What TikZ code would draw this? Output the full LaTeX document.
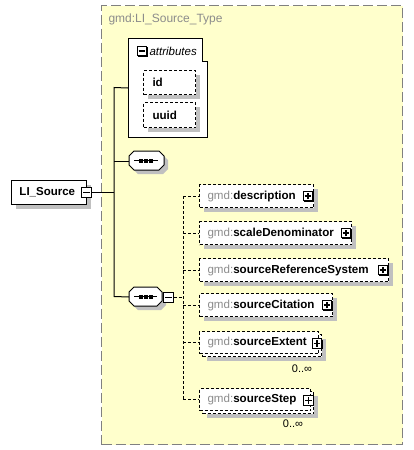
\documentclass[tikz,border=0pt]{standalone}
\usepackage{fontspec}
\setmainfont{Liberation Sans}
\usetikzlibrary{shadows}
\definecolor{frameyellow}{HTML}{FFFFCC}
\definecolor{framegrey}{HTML}{808080}
\definecolor{gmdgrey}{HTML}{8C8C8C}
\definecolor{shgrey}{HTML}{C0C0C0}
\newcommand{\fsmain}{\fontsize{11.6pt}{14pt}\selectfont}
\newcommand{\octpath}[4]{(#1+5,#2) -- (#3-5,#2) -- (#3,#2+5) -- (#3,#4-5) -- (#3-5,#4) -- (#1+5,#4) -- (#1,#4-5) -- (#1,#2+5) -- cycle}
\newcommand{\gmd}[1]{\textcolor{gmdgrey}{gmd:}\textbf{#1}}
\begin{document}
\begin{tikzpicture}[x=1pt,y=-1pt,line width=1pt,
  frame/.style={rectangle, draw=framegrey, fill=frameyellow, dash pattern=on 10pt off 4pt, anchor=north west, inner sep=0pt},
  invis/.style={rectangle, draw=none, anchor=north west, inner sep=0pt},
  solidbox/.style={rectangle, draw=black, fill=white, anchor=north west, inner sep=0pt},
  dashbox/.style={rectangle, draw=black, fill=white, dash pattern=on 3pt off 2pt, anchor=north west, inner sep=0pt},
  shad/.style={general shadow={fill=shgrey, shadow xshift=4pt, shadow yshift=-4pt}},
  lbl/.style={anchor=west, inner sep=0pt, font=\fsmain},
  smalllbl/.style={inner sep=0pt, font=\fontsize{11pt}{13pt}\selectfont},
  pmbox/.style={rectangle, draw=black, fill=white, minimum size=9.5pt, inner sep=0pt,
     general shadow={fill=black, shadow xshift=1.2pt, shadow yshift=-1.2pt}},
  minusbox/.style={pmbox, path picture={\draw[line width=1.2pt] ([xshift=-3.3pt]path picture bounding box.center) -- ([xshift=3.3pt]path picture bounding box.center);}},
  plusbox/.style={pmbox, path picture={\draw[line width=1.2pt] ([xshift=-3.3pt]path picture bounding box.center) -- ([xshift=3.3pt]path picture bounding box.center);
     \draw[line width=1.2pt] ([yshift=-3.3pt]path picture bounding box.center) -- ([yshift=3.3pt]path picture bounding box.center);}},
  conn/.style={draw=black, line width=1pt},
  dconn/.style={draw=black, line width=1pt, dash pattern=on 3pt off 2pt}
]
\useasboundingbox (0,0) rectangle (413,450);

% type frame
\node[frame, minimum width=301pt, minimum height=439pt] (frame) at (101,5) {};
\node[anchor=west, inner sep=0pt, font=\fontsize{12pt}{14pt}\selectfont, text=gmdgrey] (title) at (108,19) {gmd:LI\_Source\_Type};

% attributes
\node[invis, minimum width=79pt, minimum height=99pt] (attr) at (128,38) {};
\draw[fill=white] (128,38) -- (202,38) -- (202,61) -- (207,61) -- (207,137) -- (128,137) -- cycle;
\node[minusbox] (attrM) at (142,51) {};
\node[lbl, font=\fontsize{11.5pt}{13pt}\selectfont\itshape] (attrT) at (149,51) {attributes};
\node[dashbox, shad, minimum width=52pt, minimum height=24pt] (id) at (143,70) {};
\node[lbl] (idT) at ([xshift=9pt]id.west) {\textbf{id}};
\node[dashbox, shad, minimum width=52pt, minimum height=25pt] (uuid) at (143,102) {};
\node[lbl] (uuidT) at ([xshift=9pt]uuid.west) {\textbf{uuid}};

% root element
\node[solidbox, shad, minimum width=75pt, minimum height=24pt] (li) at (11,180) {};
\node[lbl, font=\fontsize{11.5pt}{13pt}\selectfont] (liT) at ([xshift=8pt]li.west) {\textbf{LI\_Source}};
\node[minusbox] (liM) at ([xshift=-0.5pt]li.east) {};

% sequence 1
\node[invis, minimum width=35pt, minimum height=19pt] (seq1) at (129,151) {};
\fill[shgrey] \octpath{133}{155}{168}{174};
\draw[fill=white] \octpath{129}{151}{164}{170};
\draw (134,160.5) -- (158,160.5);
\fill (139,159) rectangle (142.5,162.5);
\fill (144.2,159) rectangle (147.7,162.5);
\fill (149.4,159) rectangle (152.9,162.5);

% sequence 2
\node[invis, minimum width=33pt, minimum height=19pt] (seq2) at (129,287) {};
\fill[shgrey] \octpath{133}{291}{166}{310};
\draw[fill=white] \octpath{129}{287}{162}{306};
\draw (134,296.5) -- (157,296.5);
\fill (139,295) rectangle (142.5,298.5);
\fill (144.2,295) rectangle (147.7,298.5);
\fill (149.4,295) rectangle (152.9,298.5);
\node[minusbox] (seq2M) at (168.5,297.5) {};

% solid connectors
\coordinate (trTop) at (114,87.5);
\coordinate (trBot) at (114,296.5);
\draw[conn] (attr.west) -- (trTop) -- (trBot) -- (seq2.west);
\draw[conn] (seq1.west) -- (seq1.west -| trTop);
\draw[conn] (liM.east) -- (liM.east -| trTop);

% children
\node[dashbox, shad, minimum width=114pt, minimum height=23pt] (desc) at (199,184) {};
\node[lbl] (descT) at ([xshift=8pt]desc.west) {\gmd{description}};
\node[plusbox] (descP) at ([xshift=-6pt]desc.east) {};

\node[dashbox, shad, minimum width=152pt, minimum height=23pt] (scale) at (199,221) {};
\node[lbl] (scaleT) at ([xshift=8pt]scale.west) {\gmd{scaleDenominator}};
\node[plusbox] (scaleP) at ([xshift=-6pt]scale.east) {};

\node[dashbox, shad, minimum width=189pt, minimum height=23pt] (refsys) at (199,258) {};
\node[lbl] (refsysT) at ([xshift=8pt]refsys.west) {\gmd{sourceReferenceSystem}};
\node[plusbox] (refsysP) at ([xshift=-6pt]refsys.east) {};

\node[dashbox, shad, minimum width=133pt, minimum height=23pt] (cit) at (199,293) {};
\node[lbl] (citT) at ([xshift=8pt]cit.west) {\gmd{sourceCitation}};
\node[plusbox] (citP) at ([xshift=-6pt]cit.east) {};

\node[dashbox, shad, minimum width=119pt, minimum height=22pt] (extB) at (202,334) {};
\node[dashbox, minimum width=119pt, minimum height=22pt] (ext) at (199,331) {};
\node[lbl] (extT) at ([xshift=8pt]ext.west) {\gmd{sourceExtent}};
\node[plusbox] (extP) at (317,343.5) {};
\node[smalllbl] (extM) at (302,369) {0..∞};

\node[dashbox, shad, minimum width=111pt, minimum height=22pt] (stepB) at (202,391) {};
\node[dashbox, minimum width=111pt, minimum height=22pt] (stp) at (199,388) {};
\node[lbl] (stpT) at ([xshift=8pt]stp.west) {\gmd{sourceStep}};
\node[plusbox] (stpP) at (308.5,400.5) {};
\node[smalllbl] (stpM) at (293,424) {0..∞};

% dashed connectors
\coordinate (cx) at (183,296.5);
\draw[dconn] (seq2M.east) -- (seq2M.east -| cx);
\draw[dconn] (desc.west -| cx) -- (stp.west -| cx);
\foreach \c in {desc,scale,refsys,cit,ext,stp}{
  \draw[dconn] (\c.west -| cx) -- (\c.west);
}
\end{tikzpicture}
\end{document}
